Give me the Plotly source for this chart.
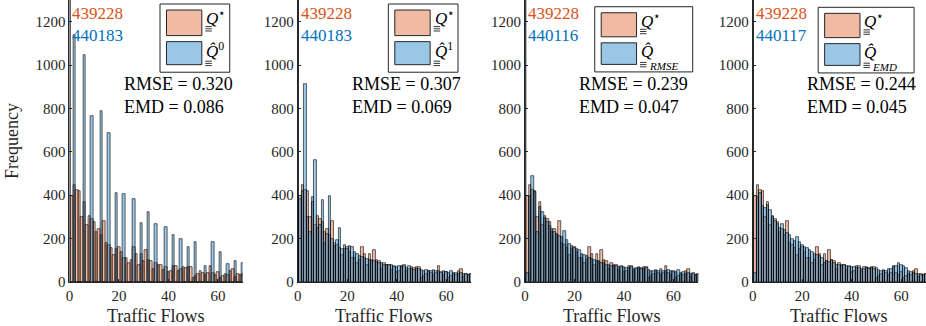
import plotly.graph_objects as go

# histogram bins: bin centres 0..70, width 1 (bin 0 holds the zero flows)
flows = list(range(71))

q_star = [439228, 395, 445, 425, 420, 298, 370, 262, 305, 290, 278,
          228, 245, 215, 280, 178, 170, 158, 125, 150, 162,
          140, 108, 108, 85, 100, 162, 130, 80, 130, 98,
          148, 100, 95, 60, 88, 80, 80, 55, 70, 45,
          48, 75, 72, 48, 58, 70, 65, 70, 68, 20,
          28, 35, 48, 40, 30, 42, 75, 40, 30, 45,
          20, 25, 38, 32, 50, 60, 22, 38, 30, 35]

q_hat0 = [440183, 0, 1140, 0, 0, 0, 1047, 0, 0, 765, 0,
          0, 0, 788, 0, 0, 686, 0, 0, 411, 0,
          0, 403, 0, 0, 0, 383, 0, 0, 270, 0,
          0, 320, 0, 0, 267, 0, 0, 0, 252, 0,
          0, 218, 0, 0, 198, 0, 0, 159, 0, 0,
          185, 0, 0, 0, 74, 0, 0, 185, 0, 0,
          136, 0, 0, 82, 0, 0, 97, 0, 0, 85]

q_hat1 = [440183, 380, 420, 913, 300, 230, 390, 561, 250, 260, 378,
          180, 220, 394, 200, 165, 195, 249, 150, 170, 150,
          165, 160, 140, 130, 120, 115, 110, 105, 100, 100,
          95, 90, 85, 85, 80, 80, 78, 80, 75, 70,
          72, 70, 80, 62, 75, 58, 55, 60, 58, 55,
          52, 55, 50, 50, 55, 48, 50, 45, 52, 45,
          42, 48, 40, 42, 38, 40, 35, 38, 32, 35]

q_rmse = [440116, 40, 395, 490, 415, 230, 345, 320, 295, 275, 258,
          245, 232, 222, 212, 205, 235, 195, 175, 165, 158,
          150, 145, 130, 125, 118, 112, 105, 100, 95, 92,
          88, 85, 80, 78, 75, 72, 75, 70, 72, 70,
          65, 62, 68, 60, 65, 62, 60, 58, 62, 55,
          52, 50, 55, 52, 58, 50, 52, 55, 48, 52,
          45, 55, 40, 45, 38, 42, 35, 40, 30, 35]

q_emd = [440117, 40, 390, 410, 350, 340, 355, 330, 300, 280, 265,
         250, 268, 240, 225, 215, 200, 190, 205, 185, 170,
         160, 155, 145, 140, 130, 125, 118, 110, 88, 95,
         90, 100, 85, 80, 78, 75, 80, 72, 75, 70,
         68, 62, 65, 60, 70, 65, 60, 62, 58, 62,
         55, 50, 55, 52, 58, 60, 70, 75, 85, 80,
         72, 65, 50, 45, 40, 38, 35, 32, 30, 35]

rmse = [0.320, 0.307, 0.239, 0.244]
emd = [0.086, 0.069, 0.047, 0.045]
estimates = [q_hat0, q_hat1, q_rmse, q_emd]
hat_sup = ["0", "1", "", ""]
hat_sub = ["", "", "RMSE", "EMD"]

W, H = 926, 326          # layout coordinates (px of the target picture)
FIG_H = 335              # the page is photographed a little squeezed vertically
ORANGE = "rgba(217,83,25,0.4)"
BLUE = "rgba(0,114,189,0.4)"
FONT = "Liberation Serif"

x0s = [65.7, 295.0, 523.3, 752.0]   # left edge of each axes in px
AX_W = 174.0
AX_BOTTOM = 281.0
# legend box (left, right, top, bottom) relative to each axes' left edge
leg_boxes = [(91, 161, 4, 72), (91, 161, 4, 72), (70, 168.4, 6.7, 71.7), (65.7, 162, 7.3, 72.7)]


def px(x):
    return min(max(x / W, 0), 1)


def py(y):
    return min(max(1 - y / H, 0), 1)


fig = go.Figure()
shapes = []
annotations = []

for i, est in enumerate(estimates):
    n = i + 1
    xa = "x" if n == 1 else f"x{n}"
    ya = "y" if n == 1 else f"y{n}"
    fig.add_trace(go.Bar(x=flows, y=q_star, width=1, xaxis=xa, yaxis=ya,
                         marker=dict(color=ORANGE, line=dict(color="black", width=0.6)),
                         showlegend=False))
    fig.add_trace(go.Bar(x=flows, y=est, width=1, xaxis=xa, yaxis=ya,
                         marker=dict(color=BLUE, line=dict(color="black", width=0.6)),
                         showlegend=False))

    x0 = x0s[i]
    axis_common = dict(showgrid=False, zeroline=False, showline=True, linecolor="#262626",
                       linewidth=1, ticks="inside", ticklen=3, tickcolor="#262626",
                       tickfont=dict(family=FONT, size=15, color="#262626"))
    fig.layout[f"xaxis{'' if n == 1 else n}"] = dict(
        domain=[px(x0), px(x0 + AX_W)], anchor=ya, range=[0, 70],
        tickvals=[0, 20, 40, 60], **axis_common)
    fig.layout[f"yaxis{'' if n == 1 else n}"] = dict(
        domain=[py(AX_BOTTOM), 1], anchor=xa, range=[0, 1300],
        tickvals=[0, 200, 400, 600, 800, 1000, 1200], **axis_common)

    # clipped zero-bin counts
    annotations.append(dict(x=px(x0 + 1), y=py(13.3), xref="paper", yref="paper",
                            text=str(q_star[0]), showarrow=False, xanchor="left",
                            yanchor="middle", font=dict(family=FONT, size=17, color="#D95319")))
    annotations.append(dict(x=px(x0 + 1), y=py(35), xref="paper", yref="paper",
                            text=str(est[0]), showarrow=False, xanchor="left",
                            yanchor="middle", font=dict(family=FONT, size=17, color="#0072BD")))
    # error measures
    annotations.append(dict(x=px(x0 + 52.5), y=py(83.5), xref="paper", yref="paper",
                            text=f"RMSE = {rmse[i]:.3f}", showarrow=False, xanchor="left",
                            yanchor="middle", font=dict(family=FONT, size=18, color="black")))
    annotations.append(dict(x=px(x0 + 52.5), y=py(106.3), xref="paper", yref="paper",
                            text=f"EMD = {emd[i]:.3f}", showarrow=False, xanchor="left",
                            yanchor="middle", font=dict(family=FONT, size=18, color="black")))
    # x-axis title
    annotations.append(dict(x=px(x0 + AX_W / 2), y=py(315.5), xref="paper", yref="paper",
                            text="Traffic Flows", showarrow=False, xanchor="center",
                            yanchor="middle", font=dict(family=FONT, size=18, color="#262626")))

    # hand-made legend
    bl, br, bt, bb = leg_boxes[i]
    shapes.append(dict(type="rect", xref="paper", yref="paper",
                       x0=px(x0 + bl), x1=px(x0 + br), y0=py(bb), y1=py(bt),
                       line=dict(color="#262626", width=1), fillcolor="white", layer="above"))
    pl = bl + 6.5
    pr = pl + 35.5
    mid = (bt + bb) / 2
    for (t, b), col in [((bt + 6, mid - 2.5), ORANGE), ((mid + 3.5, bb - 7.5), BLUE)]:
        shapes.append(dict(type="rect", xref="paper", yref="paper",
                           x0=px(x0 + pl), x1=px(x0 + pr), y0=py(b), y1=py(t),
                           line=dict(color="#262626", width=1), fillcolor=col, layer="above"))
    tx = x0 + pr + 2.5
    annotations.append(dict(x=px(tx), y=py(bt + 13), xref="paper", yref="paper",
                            text="<i>Q</i><sup>⋆</sup>", showarrow=False, xanchor="left",
                            yanchor="middle", font=dict(family=FONT, size=17, color="black")))
    hat_text = "<i>Q̂</i>"
    if hat_sup[i]:
        hat_text += f"<sup>{hat_sup[i]}</sup>"
    annotations.append(dict(x=px(tx), y=py(mid + 12), xref="paper", yref="paper",
                            text=hat_text, showarrow=False, xanchor="left",
                            yanchor="middle", font=dict(family=FONT, size=17, color="black")))
    if hat_sub[i]:
        annotations.append(dict(x=px(tx + 8), y=py(bb - 6), xref="paper", yref="paper",
                                text=f"<i>{hat_sub[i]}</i>", showarrow=False, xanchor="left",
                                yanchor="middle", font=dict(family=FONT, size=11, color="black")))
    # triple underlines
    for ly in (bt + 22.5, mid + 23):
        for k in range(3):
            yy = ly + 2.2 * k
            shapes.append(dict(type="line", xref="paper", yref="paper",
                               x0=px(tx + 1), x1=px(tx + 7.5), y0=py(yy), y1=py(yy),
                               line=dict(color="black", width=0.8), layer="above"))

annotations.append(dict(x=px(8.5), y=py(140), xref="paper", yref="paper", text="Frequency",
                        textangle=-90, showarrow=False, xanchor="center", yanchor="middle",
                        font=dict(family=FONT, size=18, color="#262626")))

fig.update_layout(width=W, height=FIG_H, margin=dict(l=0, r=0, t=0, b=0),
                  paper_bgcolor="white", plot_bgcolor="white",
                  barmode="overlay", bargap=0, shapes=shapes, annotations=annotations)

# pin the figure to the window origin, no page margin, no scroll overflow
page_css = ("var s=document.documentElement.style, b=document.body.style;"
            "s.margin=b.margin='0'; s.padding=b.padding='0';"
            "s.overflow=b.overflow='hidden';")
fig.write_html("out.html", config={"displayModeBar": False}, post_script=page_css)
